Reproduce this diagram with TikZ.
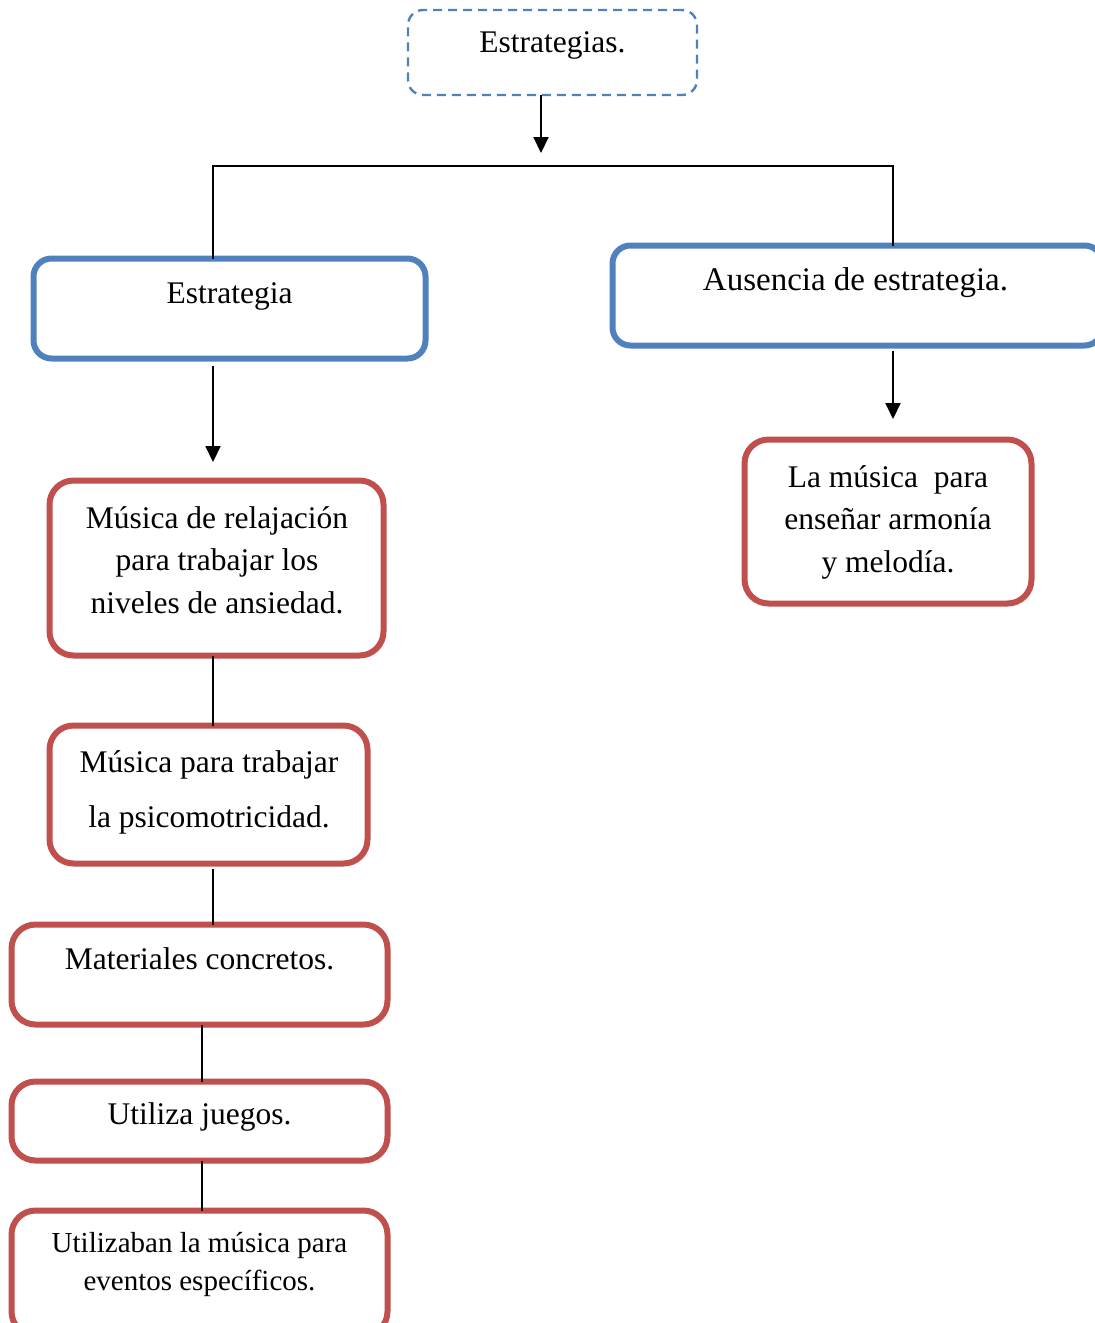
\documentclass[tikz,border=0pt]{standalone}
\usepackage{fontspec}
\setmainfont{Liberation Serif}
\usetikzlibrary{arrows.meta}
\definecolor{boxblue}{HTML}{4F81BD}
\definecolor{boxred}{HTML}{C0504D}
\tikzset{
  bluebox/.style={draw=boxblue, line width=6pt, rounded corners=18pt, rectangle, inner sep=0pt, outer sep=0pt},
  redbox/.style={draw=boxred, line width=6pt, rounded corners=24pt, rectangle, inner sep=0pt, outer sep=0pt},
  dashbox/.style={draw=boxblue, line width=2.4pt, dash pattern=on 9pt off 6pt, rounded corners=15pt, rectangle, inner sep=0pt, outer sep=0pt},
  lbl/.style={anchor=base, inner sep=0pt, align=center, font=\fontsize{31.5}{42.5}\selectfont},
  conn/.style={draw=black, line width=2.1pt},
  arr/.style={conn, -{Triangle[length=16pt,width=15pt]}},
}
\begin{document}
\begin{tikzpicture}[x=1pt,y=-1pt]
\useasboundingbox (0,0) rectangle (1095,1323);
\begin{scope}
\clip (0,0) rectangle (1095,1323);
% boxes
\node[dashbox, minimum width=289pt, minimum height=85pt] (top) at (552.5,52.5) {};
\node[bluebox, minimum width=392pt, minimum height=100pt] (est) at (229.5,308.5) {};
\node[bluebox, minimum width=490pt, minimum height=100pt] (aus) at (857.5,295.5) {};
\node[redbox, minimum width=287pt, minimum height=164pt] (rr) at (888,521.5) {};
\node[redbox, minimum width=334pt, minimum height=175pt] (r1) at (216.5,568) {};
\node[redbox, minimum width=318pt, minimum height=138pt] (r2) at (208.5,794.5) {};
\node[redbox, minimum width=376pt, minimum height=100pt] (r3) at (199.5,974.5) {};
\node[redbox, minimum width=376pt, minimum height=79pt] (r4) at (199.5,1121) {};
\node[redbox, minimum width=376pt, minimum height=125pt] (r5) at (199.5,1273) {};
% texts (multi-line nodes: base = baseline of the last line)
\node[lbl] (ttop) at (552.5,52) {Estrategias.};
\node[lbl] (test) at (229.5,303) {Estrategia};
\node[lbl, font=\fontsize{33}{42}\selectfont] (taus) at (855.5,290) {Ausencia de estrategia.};
\node[lbl] (trr) at (888,572) {La música~~para\\enseñar armonía\\y melodía.};
\node[lbl] (tr1) at (217,613) {Música de relajación\\para trabajar los\\niveles de ansiedad.};
\node[lbl, font=\fontsize{31.5}{55}\selectfont] (tr2) at (209,827) {Música para trabajar\\la psicomotricidad.};
\node[lbl] (tr3) at (199.5,969) {Materiales concretos.};
\node[lbl] (tr4) at (199.5,1124) {Utiliza juegos.};
\node[lbl, font=\fontsize{29}{37.5}\selectfont] (tr5) at (199.5,1290) {Utilizaban la música para\\eventos específicos.};
% connectors
\coordinate (a1) at (541,153);
\coordinate (jl) at (213,166);
\coordinate (jr) at (893,166);
\coordinate (a2) at (213,462);
\coordinate (a3) at (893,419);
\draw[arr] (top.south -| a1) -- (a1);
\draw[conn] (est.north -| jl) -- (jl) -- (jr) -- (aus.north -| jr);
\draw[arr] ([yshift=-7pt]est.south -| a2) -- (a2);
\draw[arr] ([yshift=-5pt]aus.south -| a3) -- (a3);
\draw[conn] (r1.south -| jl) -- (r2.north -| jl);
\draw[conn] ([yshift=-5pt]r2.south -| jl) -- (r3.north -| jl);
\coordinate (cx) at (202,0);
\draw[conn] (r3.south -| cx) -- (r4.north -| cx);
\draw[conn] (r4.south -| cx) -- (r5.north -| cx);
\end{scope}
\end{tikzpicture}
\end{document}
